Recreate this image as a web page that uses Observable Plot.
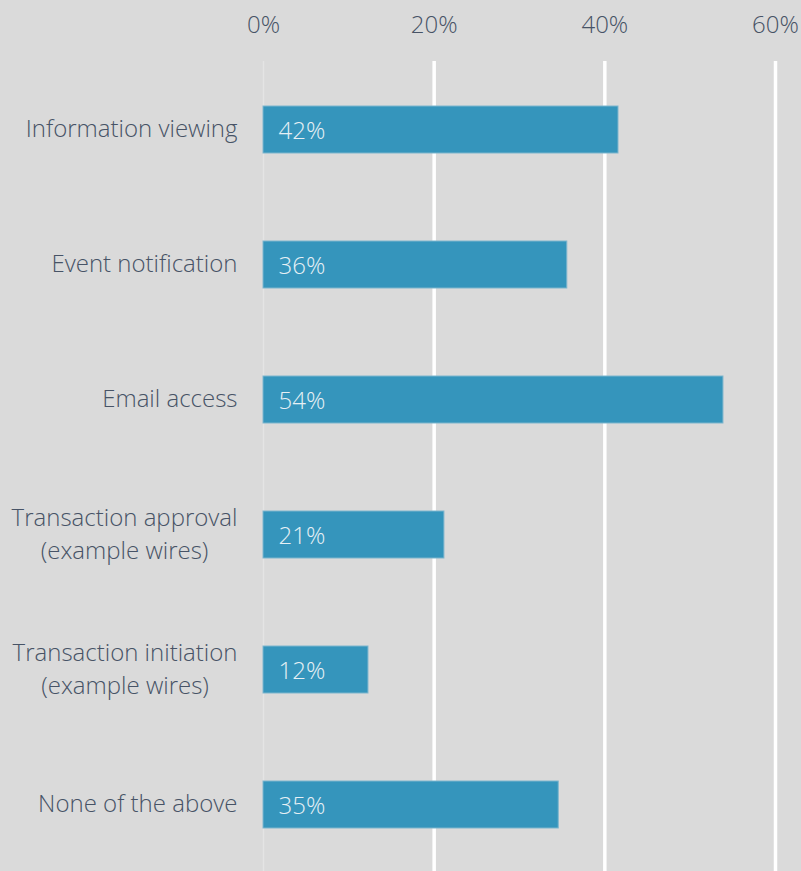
<!DOCTYPE html>
<html><head><meta charset="utf-8">
<script src="https://cdn.jsdelivr.net/npm/d3@7"></script>
<script src="https://cdn.jsdelivr.net/npm/@observablehq/plot@0.6"></script>
<style>html,body{margin:0;padding:0;background:#dadada;overflow:hidden}</style>
</head><body><div id="chart"></div>
<script>
const categories = ["Information viewing","Event notification","Email access","Transaction approval\n(example wires)","Transaction initiation\n(example wires)","None of the above"];
const values = [41.6, 35.6, 53.9, 21.2, 12.3, 34.6];
const valueLabels = ["42%","36%","54%","21%","12%","35%"];
const xTicks = [0, 20, 40, 60];
const data = categories.map((c, i) => ({category: c, value: values[i], label: valueLabels[i]}));
const textColor = "#475366";
const chart = Plot.plot({
  width: 801, height: 871,
  marginTop: 63, marginBottom: 0, marginLeft: 263, marginRight: 26,
  style: {background: "#dadada", fontFamily: "'Open Sans', sans-serif", fontSize: "24px", color: textColor, fontWeight: 300},
  x: {domain: [0, 60], label: null},
  y: {domain: categories, paddingInner: 0.65, paddingOuter: 0.304, label: null},
  marks: [
    Plot.ruleX(xTicks.filter(d => d > 0), {stroke: "#ffffff", strokeWidth: 3.5, insetTop: -2}),
    Plot.ruleX([0], {stroke: "#e4e4e4", strokeWidth: 1.5, insetTop: -2}),
    Plot.barX(data, {x: "value", y: "category", fill: "#3595bc", stroke: "#7db5cd", strokeWidth: 1}),
    Plot.text(data, {x: 0, y: "category", text: "label", textAnchor: "start", dx: 15, dy: 1, fill: "#e6f0f5", fontSize: 24, fontWeight: 300}),
    Plot.axisX({anchor: "top", ticks: xTicks, tickFormat: d => d + "%", tickSize: 0, tickPadding: 31, label: null, fill: textColor, fontSize: 24, fontWeight: 300}),
    Plot.axisY({anchor: "left", tickSize: 0, tickPadding: 26, dy: -3, label: null, fill: textColor, fontSize: 24, fontWeight: 300, lineHeight: 1.35})
  ]
});
document.getElementById("chart").appendChild(chart);
// center multi-line y tick labels as a block, right edge at the tick padding
chart.querySelectorAll('g[aria-label="y-axis tick label"] text').forEach(t => {
  const spans = t.querySelectorAll("tspan");
  if (spans.length > 1) {
    let maxW = 0;
    spans.forEach(s => { maxW = Math.max(maxW, s.getComputedTextLength()); });
    t.setAttribute("text-anchor", "middle");
    spans.forEach(s => s.setAttribute("x", -maxW / 2));
  }
});
</script>
</body></html>
